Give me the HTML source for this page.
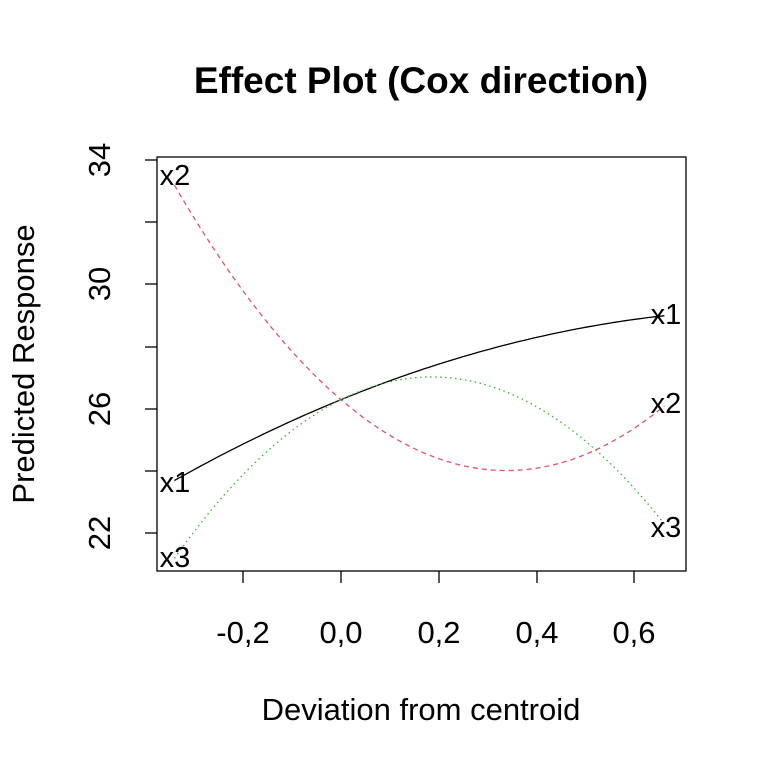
<!DOCTYPE html>
<html><head><meta charset="utf-8"><style>
body{margin:0;background:#fff}
svg text{font-family:"Liberation Sans",Arial,sans-serif}
</style></head><body>
<svg id="s" width="768" height="768" xmlns="http://www.w3.org/2000/svg">
<rect width="768" height="768" fill="#fff"/>
<text x="421" y="93" font-size="37" font-weight="bold" text-anchor="middle">Effect Plot (Cox direction)</text>
<rect x="157" y="157" width="529" height="414" fill="none" stroke="#000" stroke-width="1.3"/>
<g stroke="#000" stroke-width="1.3">
<line x1="243" y1="571" x2="243" y2="583"/><line x1="341" y1="571" x2="341" y2="583"/>
<line x1="439" y1="571" x2="439" y2="583"/><line x1="537" y1="571" x2="537" y2="583"/>
<line x1="634" y1="571" x2="634" y2="583"/>
<line x1="145" y1="160" x2="157" y2="160"/><line x1="145" y1="222" x2="157" y2="222"/>
<line x1="145" y1="284" x2="157" y2="284"/><line x1="145" y1="347" x2="157" y2="347"/>
<line x1="145" y1="409" x2="157" y2="409"/><line x1="145" y1="471" x2="157" y2="471"/>
<line x1="145" y1="533" x2="157" y2="533"/>
</g>
<g font-size="31" text-anchor="middle">
<text x="243" y="643">-0,2</text><text x="341" y="643">0,0</text><text x="439" y="643">0,2</text>
<text x="537" y="643">0,4</text><text x="634" y="643">0,6</text>
<text transform="translate(110,160) rotate(-90)">34</text>
<text transform="translate(110,284) rotate(-90)">30</text>
<text transform="translate(110,409) rotate(-90)">26</text>
<text transform="translate(110,533) rotate(-90)">22</text>
<text x="421" y="720">Deviation from centroid</text>
<text transform="translate(34,364) rotate(-90)">Predicted Response</text>
</g>
<path id="c1" fill="none" stroke="#000" stroke-width="1.3"/>
<path id="c2" fill="none" stroke="#DF536B" stroke-width="1.3" stroke-dasharray="5,4"/>
<path id="c3" fill="none" stroke="#2DB52D" stroke-width="1.3" stroke-dasharray="1.5,3.5"/>
<g font-size="29" text-anchor="middle">
<text x="175" y="492">x1</text><text x="666" y="324">x1</text>
<text x="175" y="185">x2</text><text x="666" y="413">x2</text>
<text x="175" y="567">x3</text><text x="666" y="537">x3</text>
</g>
</svg>
<script>
function p(b,c){var d="";for(var i=0;i<=100;i++){var x=-0.34+i*0.01;var y=26.3+b*x+c*x*x;var px=341+490*x,py=409-31.1*(y-26);d+=(i?"L":"M")+px.toFixed(1)+","+py.toFixed(1);}return d;}
document.getElementById("c1").setAttribute("d",p(6.438,-3.556));
document.getElementById("c2").setAttribute("d",p(-13.5,19.99));
document.getElementById("c3").setAttribute("d",p(7.84,-21.06));
</script>
</body></html>
